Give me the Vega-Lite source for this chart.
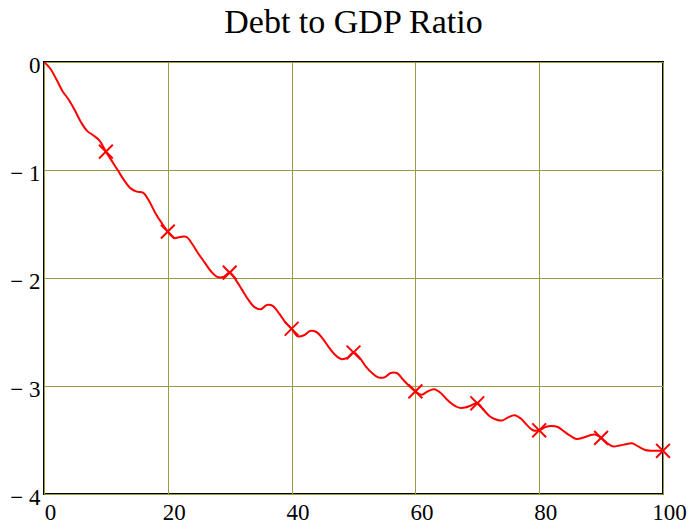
{
  "$schema": "https://vega.github.io/schema/vega-lite/v6.json",
  "autosize": {"type": "none"},
  "padding": {"left": 44, "top": 62, "right": 26, "bottom": 36},
  "width": 619,
  "height": 432,
  "title": {"text": "Debt to GDP Ratio", "font": "Liberation Serif", "fontSize": 34, "fontWeight": "normal", "color": "black", "anchor": "middle", "offset": 14},
  "config": {
    "view": {"stroke": "black", "strokeWidth": 2},
    "axis": {"labelFont": "Liberation Serif", "labelFontSize": 23, "labelColor": "black", "domain": false, "ticks": false, "grid": true, "gridColor": "#9a9a44", "gridWidth": 1, "gridOpacity": 1, "title": null}
  },
  "data": {"values": [
    {"x": 0, "y": 0}, {"x": 1, "y": -0.06}, {"x": 2, "y": -0.16}, {"x": 3, "y": -0.27}, {"x": 4, "y": -0.35},
    {"x": 5, "y": -0.45}, {"x": 6, "y": -0.56}, {"x": 7, "y": -0.64}, {"x": 8, "y": -0.68}, {"x": 9, "y": -0.73},
    {"x": 10, "y": -0.83}, {"x": 11, "y": -0.92}, {"x": 12, "y": -1.01}, {"x": 13, "y": -1.10}, {"x": 14, "y": -1.17},
    {"x": 15, "y": -1.20}, {"x": 16, "y": -1.21}, {"x": 17, "y": -1.29}, {"x": 18, "y": -1.40}, {"x": 19, "y": -1.49},
    {"x": 20, "y": -1.57}, {"x": 21, "y": -1.63}, {"x": 22, "y": -1.62}, {"x": 23, "y": -1.62}, {"x": 24, "y": -1.69},
    {"x": 25, "y": -1.78}, {"x": 26, "y": -1.86}, {"x": 27, "y": -1.94}, {"x": 28, "y": -1.99}, {"x": 29, "y": -1.99},
    {"x": 30, "y": -1.95}, {"x": 31, "y": -2.02}, {"x": 32, "y": -2.11}, {"x": 33, "y": -2.20}, {"x": 34, "y": -2.27},
    {"x": 35, "y": -2.29}, {"x": 36, "y": -2.25}, {"x": 37, "y": -2.26}, {"x": 38, "y": -2.33}, {"x": 39, "y": -2.41},
    {"x": 40, "y": -2.47}, {"x": 41, "y": -2.54}, {"x": 42, "y": -2.53}, {"x": 43, "y": -2.49}, {"x": 44, "y": -2.50},
    {"x": 45, "y": -2.56}, {"x": 46, "y": -2.64}, {"x": 47, "y": -2.71}, {"x": 48, "y": -2.75}, {"x": 49, "y": -2.74},
    {"x": 50, "y": -2.69}, {"x": 51, "y": -2.74}, {"x": 52, "y": -2.82}, {"x": 53, "y": -2.88}, {"x": 54, "y": -2.92},
    {"x": 55, "y": -2.92}, {"x": 56, "y": -2.88}, {"x": 57, "y": -2.88}, {"x": 58, "y": -2.94}, {"x": 59, "y": -3.00},
    {"x": 60, "y": -3.05}, {"x": 61, "y": -3.08}, {"x": 62, "y": -3.05}, {"x": 63, "y": -3.03}, {"x": 64, "y": -3.06},
    {"x": 65, "y": -3.12}, {"x": 66, "y": -3.17}, {"x": 67, "y": -3.20}, {"x": 68, "y": -3.20}, {"x": 69, "y": -3.18},
    {"x": 70, "y": -3.16}, {"x": 71, "y": -3.22}, {"x": 72, "y": -3.28}, {"x": 73, "y": -3.31}, {"x": 74, "y": -3.32},
    {"x": 75, "y": -3.29}, {"x": 76, "y": -3.27}, {"x": 77, "y": -3.30}, {"x": 78, "y": -3.36}, {"x": 79, "y": -3.41},
    {"x": 80, "y": -3.41}, {"x": 81, "y": -3.38}, {"x": 82, "y": -3.37}, {"x": 83, "y": -3.38}, {"x": 84, "y": -3.42},
    {"x": 85, "y": -3.46}, {"x": 86, "y": -3.49}, {"x": 87, "y": -3.48}, {"x": 88, "y": -3.46}, {"x": 89, "y": -3.45},
    {"x": 90, "y": -3.48}, {"x": 91, "y": -3.53}, {"x": 92, "y": -3.56}, {"x": 93, "y": -3.55}, {"x": 94, "y": -3.54},
    {"x": 95, "y": -3.53}, {"x": 96, "y": -3.56}, {"x": 97, "y": -3.59}, {"x": 98, "y": -3.60}, {"x": 99, "y": -3.60},
    {"x": 100, "y": -3.60}
  ]},
  "encoding": {
    "x": {"field": "x", "type": "quantitative", "scale": {"domain": [0, 100], "nice": false, "zero": false},
          "axis": {"values": [0, 20, 40, 60, 80, 100], "labelPadding": 7, "labelOffset": 6, "labelFlush": false}},
    "y": {"field": "y", "type": "quantitative", "scale": {"domain": [-4, 0], "nice": false},
          "axis": {"values": [0, -1, -2, -3, -4], "labelPadding": 4, "labelOffset": 3, "labelFlush": false,
                   "labelExpr": "datum.value < 0 ? '\u2212 ' + abs(datum.value) : datum.label"}}
  },
  "layer": [
    {"mark": {"type": "line", "color": "#ff0000", "strokeWidth": 2, "interpolate": "catmull-rom", "clip": true}},
    {"transform": [{"filter": "datum.x > 0 && datum.x % 10 == 0"}],
     "mark": {"type": "point", "shape": "M-1,-1L1,1M-1,1L1,-1", "filled": false, "color": "#ff0000", "strokeWidth": 2, "size": 190, "opacity": 1, "clip": false}}
  ]
}
